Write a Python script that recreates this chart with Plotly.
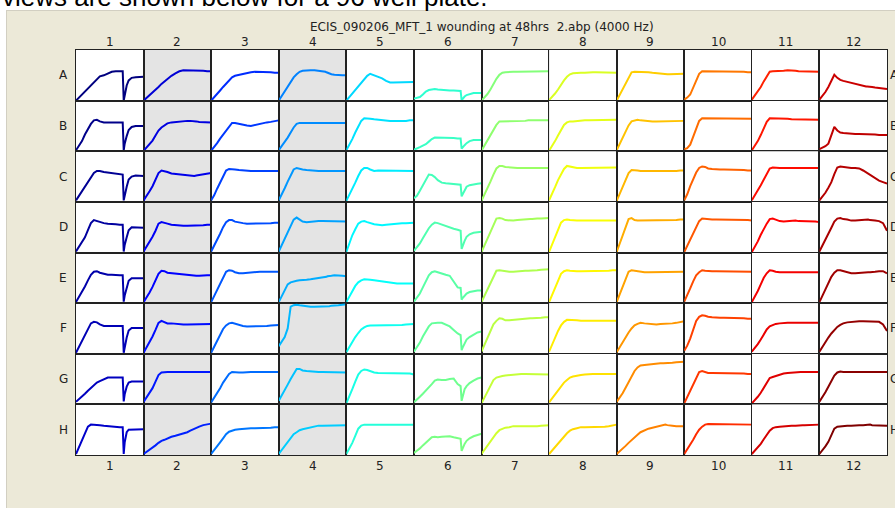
import plotly.graph_objects as go
from plotly.subplots import make_subplots

# hours since seeding; the plate was wounded at 48 h
hours = [0, 3, 6, 9, 12, 15, 18, 21, 24, 28, 32, 36, 40, 44, 47, 48, 49, 51, 53, 56, 60, 64, 68]

row_labels = ["A", "B", "C", "D", "E", "F", "G", "H"]
col_labels = [str(c) for c in range(1, 13)]

# resistance traces, % of the cell's y range, one list per well, columns 1..12
row_a = [
    [0, 6, 12, 18, 24, 30, 38, 44, 48, 50, 54, 57, 58, 58, 58, 0, 10, 30, 40, 45, 46, 47, 47],
    [0, 5, 11, 16, 21, 27, 33, 38, 43, 49, 54, 58, 60, 60, 60, 60, 60, 60, 59, 59, 59, 58, 58],
    [0, 6, 13, 20, 27, 34, 41, 46, 49, 51, 53, 54, 56, 57, 57, 57, 57, 57, 56, 56, 56, 55, 55],
    [0, 9, 18, 28, 37, 46, 52, 57, 59, 60, 60, 60, 59, 59, 57, 56, 55, 53, 52, 51, 50, 50, 50],
    [0, 7, 14, 22, 29, 36, 43, 49, 53, 50, 46, 44, 39, 36, 36, 36, 36, 36, 36, 36, 36, 37, 37],
    [4, 5, 7, 12, 18, 21, 22, 23, 22, 21, 21, 20, 20, 19, 19, 1, 4, 8, 11, 13, 15, 15, 15],
    [0, 6, 13, 22, 33, 43, 51, 55, 56, 57, 57, 57, 57, 57, 57, 57, 58, 58, 58, 58, 58, 58, 58],
    [1, 7, 14, 22, 32, 40, 47, 52, 54, 55, 55, 55, 56, 56, 56, 56, 56, 56, 56, 55, 55, 55, 55],
    [0, 11, 23, 35, 46, 56, 57, 57, 57, 56, 56, 55, 54, 53, 52, 52, 52, 52, 52, 52, 52, 53, 53],
    [2, 6, 12, 27, 42, 53, 58, 58, 58, 58, 58, 58, 58, 58, 58, 58, 58, 57, 57, 57, 57, 56, 56],
    [2, 10, 19, 27, 38, 49, 57, 58, 58, 59, 59, 60, 60, 59, 58, 58, 58, 58, 57, 57, 57, 57, 57],
    [2, 9, 17, 27, 40, 51, 45, 41, 39, 37, 34, 33, 31, 29, 28, 28, 28, 27, 27, 26, 25, 24, 23],
]
row_b = [
    [2, 10, 20, 33, 45, 54, 61, 62, 59, 57, 57, 57, 57, 57, 57, 2, 15, 30, 42, 48, 50, 50, 50],
    [1, 7, 14, 21, 31, 41, 47, 51, 55, 57, 58, 59, 60, 60, 60, 60, 60, 60, 59, 58, 58, 57, 57],
    [1, 8, 16, 25, 33, 41, 50, 56, 56, 54, 52, 51, 50, 52, 53, 54, 54, 55, 56, 57, 58, 60, 61],
    [2, 10, 18, 27, 37, 47, 54, 56, 56, 56, 56, 56, 56, 56, 56, 56, 56, 56, 56, 56, 56, 56, 56],
    [2, 12, 24, 37, 49, 60, 65, 65, 64, 63, 62, 61, 61, 60, 60, 60, 59, 59, 59, 60, 60, 61, 61],
    [3, 5, 8, 11, 14, 19, 24, 27, 27, 27, 27, 26, 26, 25, 25, 5, 8, 12, 16, 20, 22, 22, 22],
    [1, 11, 21, 31, 41, 52, 59, 59, 59, 59, 59, 60, 60, 60, 61, 61, 61, 61, 61, 61, 61, 61, 61],
    [1, 10, 20, 31, 41, 52, 57, 59, 59, 60, 60, 61, 61, 61, 61, 61, 61, 61, 61, 62, 62, 62, 62],
    [2, 14, 27, 40, 51, 59, 61, 62, 61, 60, 59, 59, 59, 59, 59, 59, 59, 59, 59, 59, 60, 60, 60],
    [4, 6, 13, 29, 46, 60, 65, 65, 65, 65, 65, 65, 65, 65, 65, 65, 65, 65, 65, 64, 64, 64, 64],
    [2, 10, 20, 32, 45, 58, 65, 65, 65, 65, 64, 64, 63, 63, 63, 63, 63, 63, 62, 62, 62, 62, 62],
    [4, 7, 10, 15, 30, 48, 41, 37, 36, 35, 35, 34, 34, 34, 33, 33, 33, 33, 33, 33, 32, 32, 32],
]
row_c = [
    [3, 12, 22, 31, 41, 50, 57, 61, 61, 59, 58, 57, 56, 55, 54, 3, 15, 30, 44, 50, 52, 51, 51],
    [3, 11, 21, 31, 44, 57, 62, 61, 59, 56, 55, 54, 53, 52, 51, 51, 51, 51, 52, 53, 54, 56, 57],
    [3, 13, 26, 38, 52, 62, 65, 65, 64, 63, 62, 61, 61, 61, 61, 61, 61, 61, 61, 61, 61, 61, 61],
    [3, 14, 27, 40, 53, 64, 67, 65, 64, 63, 62, 61, 61, 61, 61, 61, 61, 61, 61, 61, 61, 61, 61],
    [2, 13, 25, 38, 51, 62, 67, 67, 64, 61, 62, 62, 62, 62, 62, 62, 62, 62, 61, 61, 61, 61, 61],
    [7, 12, 22, 32, 43, 54, 53, 49, 43, 38, 37, 36, 35, 34, 34, 11, 15, 23, 30, 33, 35, 36, 37],
    [2, 14, 27, 40, 54, 66, 71, 71, 69, 68, 67, 67, 67, 67, 67, 67, 67, 67, 67, 67, 67, 67, 67],
    [3, 15, 29, 43, 55, 65, 71, 70, 68, 67, 67, 67, 67, 67, 67, 67, 67, 67, 67, 68, 68, 68, 68],
    [2, 16, 31, 45, 57, 63, 63, 62, 61, 61, 60, 60, 60, 60, 60, 60, 60, 60, 61, 61, 61, 62, 62],
    [3, 15, 31, 45, 58, 67, 70, 69, 66, 65, 64, 64, 64, 64, 64, 64, 64, 64, 64, 63, 63, 62, 62],
    [3, 12, 23, 33, 44, 57, 66, 68, 67, 67, 67, 67, 67, 67, 67, 67, 67, 67, 67, 67, 67, 67, 67],
    [3, 10, 18, 28, 39, 55, 68, 70, 69, 68, 67, 67, 66, 62, 58, 57, 56, 53, 50, 46, 42, 39, 36],
]
row_d = [
    [2, 11, 21, 30, 44, 58, 64, 62, 60, 58, 57, 57, 56, 55, 55, 2, 15, 30, 44, 50, 50, 50, 49],
    [2, 11, 21, 31, 43, 57, 60, 59, 57, 55, 54, 53, 53, 53, 53, 53, 53, 53, 54, 54, 54, 55, 55],
    [2, 13, 25, 37, 50, 60, 64, 64, 61, 59, 58, 57, 57, 57, 57, 57, 57, 57, 58, 58, 58, 59, 59],
    [2, 15, 29, 41, 55, 65, 69, 65, 61, 60, 61, 61, 62, 62, 62, 62, 62, 62, 62, 62, 61, 61, 61],
    [1, 18, 34, 46, 57, 61, 62, 60, 58, 56, 55, 54, 55, 56, 57, 57, 57, 57, 58, 58, 58, 59, 59],
    [3, 10, 18, 28, 39, 48, 55, 59, 58, 55, 52, 49, 47, 45, 43, 7, 14, 23, 31, 36, 39, 40, 41],
    [1, 14, 27, 40, 54, 67, 68, 67, 64, 63, 63, 64, 65, 65, 66, 66, 66, 66, 67, 67, 67, 68, 68],
    [1, 16, 32, 47, 59, 64, 65, 64, 63, 63, 63, 63, 63, 63, 63, 63, 63, 63, 63, 63, 63, 63, 63],
    [1, 18, 36, 53, 66, 68, 64, 63, 63, 63, 63, 63, 63, 63, 63, 63, 63, 63, 64, 64, 64, 65, 65],
    [1, 13, 26, 39, 52, 62, 67, 66, 65, 65, 65, 65, 65, 65, 65, 65, 65, 65, 64, 64, 64, 64, 63],
    [1, 11, 22, 35, 47, 57, 66, 67, 65, 62, 61, 62, 63, 63, 62, 62, 62, 62, 62, 62, 62, 61, 60],
    [2, 13, 24, 36, 49, 61, 67, 68, 66, 65, 63, 63, 64, 65, 65, 65, 65, 64, 63, 63, 62, 58, 43],
]
row_e = [
    [2, 12, 22, 33, 45, 56, 62, 63, 60, 58, 56, 56, 55, 55, 55, 3, 15, 32, 44, 49, 49, 49, 49],
    [2, 11, 21, 32, 45, 58, 64, 63, 60, 59, 59, 58, 57, 56, 55, 55, 55, 54, 54, 54, 55, 55, 55],
    [2, 14, 27, 39, 52, 62, 65, 64, 61, 59, 59, 60, 61, 62, 62, 62, 62, 62, 62, 62, 62, 62, 62],
    [2, 14, 27, 37, 41, 43, 44, 45, 45, 46, 47, 48, 50, 51, 52, 52, 53, 53, 54, 55, 55, 54, 53],
    [2, 13, 25, 34, 41, 45, 47, 47, 46, 45, 44, 42, 41, 40, 39, 39, 39, 39, 39, 39, 39, 39, 39],
    [3, 10, 19, 31, 44, 55, 61, 63, 61, 58, 56, 54, 42, 31, 30, 7, 10, 15, 19, 22, 24, 25, 25],
    [2, 15, 28, 41, 53, 64, 65, 64, 63, 62, 62, 63, 63, 64, 64, 64, 64, 64, 65, 65, 66, 66, 67],
    [2, 16, 30, 45, 58, 63, 65, 64, 63, 63, 63, 63, 63, 63, 63, 63, 63, 63, 64, 64, 64, 65, 65],
    [2, 17, 33, 49, 62, 65, 64, 62, 61, 61, 61, 61, 61, 61, 61, 61, 61, 61, 61, 61, 62, 62, 62],
    [3, 15, 29, 43, 55, 61, 65, 64, 63, 63, 63, 63, 62, 62, 62, 62, 62, 62, 62, 62, 62, 62, 62],
    [2, 12, 24, 37, 50, 59, 65, 64, 62, 61, 61, 61, 61, 61, 61, 61, 61, 61, 61, 61, 61, 61, 61],
    [2, 15, 29, 41, 52, 60, 65, 65, 63, 61, 59, 59, 60, 60, 61, 61, 61, 61, 62, 62, 63, 63, 59],
]
row_f = [
    [2, 13, 25, 36, 49, 60, 63, 62, 58, 55, 55, 55, 55, 55, 55, 2, 15, 32, 46, 51, 51, 51, 51],
    [2, 12, 23, 34, 47, 61, 65, 63, 60, 60, 59, 58, 58, 58, 58, 58, 58, 58, 58, 59, 59, 59, 59],
    [2, 14, 26, 38, 49, 56, 60, 61, 59, 57, 55, 54, 54, 54, 54, 54, 54, 54, 54, 55, 56, 57, 57],
    [15, 25, 33, 50, 93, 96, 97, 96, 95, 94, 93, 93, 93, 93, 93, 93, 94, 94, 95, 95, 96, 97, 98],
    [3, 14, 25, 33, 41, 48, 52, 55, 56, 56, 56, 56, 56, 56, 56, 56, 56, 57, 57, 57, 58, 58, 59],
    [4, 12, 22, 34, 45, 54, 60, 61, 61, 61, 58, 54, 47, 40, 37, 7, 12, 20, 28, 33, 38, 42, 44],
    [4, 17, 33, 46, 58, 65, 70, 69, 66, 66, 67, 68, 69, 69, 70, 70, 70, 70, 70, 71, 71, 72, 72],
    [4, 18, 32, 45, 56, 63, 67, 67, 66, 66, 65, 65, 65, 65, 65, 65, 65, 65, 65, 65, 65, 65, 65],
    [3, 13, 23, 33, 42, 50, 56, 59, 61, 60, 59, 58, 58, 59, 59, 59, 60, 60, 60, 60, 61, 62, 64],
    [6, 16, 30, 47, 65, 73, 76, 75, 73, 72, 71, 71, 71, 71, 71, 71, 71, 71, 70, 70, 70, 69, 69],
    [4, 11, 19, 28, 38, 48, 54, 57, 59, 60, 61, 61, 61, 61, 61, 61, 61, 62, 62, 62, 62, 62, 61],
    [4, 14, 23, 32, 40, 47, 53, 57, 60, 62, 63, 64, 64, 64, 64, 64, 64, 64, 64, 64, 63, 58, 45],
]
row_g = [
    [5, 10, 16, 21, 27, 33, 38, 43, 46, 50, 53, 53, 53, 53, 53, 6, 20, 35, 43, 45, 45, 45, 45],
    [5, 14, 23, 32, 45, 58, 63, 64, 64, 64, 64, 64, 64, 64, 64, 64, 64, 64, 63, 63, 63, 64, 64],
    [4, 13, 22, 32, 43, 52, 60, 64, 63, 63, 63, 64, 64, 64, 64, 64, 64, 64, 64, 64, 64, 64, 64],
    [7, 17, 27, 39, 50, 61, 70, 70, 67, 66, 65, 64, 64, 64, 64, 64, 64, 64, 63, 63, 63, 63, 63],
    [2, 15, 30, 45, 59, 66, 69, 68, 66, 63, 62, 62, 62, 62, 62, 62, 62, 62, 62, 62, 62, 61, 59],
    [4, 9, 15, 21, 27, 33, 40, 47, 49, 48, 48, 50, 51, 40, 36, 7, 15, 30, 36, 42, 47, 51, 53],
    [2, 14, 27, 38, 48, 53, 55, 56, 57, 58, 59, 59, 60, 60, 60, 60, 60, 60, 60, 60, 60, 59, 59],
    [4, 12, 20, 28, 37, 43, 48, 53, 55, 57, 58, 59, 60, 60, 60, 60, 60, 60, 60, 60, 60, 60, 60],
    [5, 13, 22, 33, 44, 55, 66, 73, 77, 78, 79, 79, 80, 81, 81, 81, 81, 82, 82, 82, 83, 83, 84],
    [2, 15, 28, 40, 53, 64, 66, 64, 62, 62, 62, 61, 61, 61, 61, 61, 61, 61, 61, 61, 61, 60, 60],
    [2, 8, 15, 23, 33, 44, 52, 54, 56, 58, 61, 62, 63, 64, 64, 64, 64, 64, 64, 65, 65, 65, 64],
    [5, 14, 24, 35, 46, 57, 63, 65, 64, 64, 64, 64, 64, 65, 65, 65, 65, 65, 64, 64, 64, 64, 64],
]
row_h = [
    [2, 16, 30, 44, 56, 60, 60, 59, 59, 58, 57, 56, 56, 55, 55, 2, 25, 45, 50, 50, 51, 51, 51],
    [2, 6, 10, 15, 19, 24, 28, 30, 33, 36, 38, 40, 42, 45, 48, 49, 50, 52, 54, 56, 59, 61, 62],
    [2, 9, 17, 25, 33, 41, 46, 48, 50, 51, 52, 52, 53, 53, 53, 53, 53, 54, 54, 54, 54, 55, 55],
    [2, 10, 18, 26, 34, 41, 45, 49, 51, 53, 55, 56, 58, 58, 58, 58, 58, 58, 59, 59, 59, 59, 59],
    [2, 12, 24, 38, 52, 58, 60, 60, 60, 60, 60, 61, 61, 61, 61, 61, 61, 61, 61, 61, 61, 61, 60],
    [4, 8, 13, 19, 25, 30, 35, 36, 35, 36, 37, 37, 35, 33, 32, 8, 14, 22, 28, 33, 37, 40, 42],
    [2, 10, 19, 28, 36, 43, 49, 52, 54, 55, 57, 57, 57, 56, 56, 56, 56, 56, 57, 57, 58, 58, 59],
    [2, 9, 17, 24, 31, 37, 43, 48, 51, 53, 55, 55, 55, 55, 55, 55, 55, 56, 56, 56, 57, 58, 60],
    [2, 7, 12, 18, 24, 30, 35, 40, 45, 49, 52, 54, 56, 58, 59, 60, 60, 59, 58, 58, 57, 57, 57],
    [2, 11, 20, 30, 41, 50, 56, 60, 61, 61, 61, 61, 61, 61, 61, 61, 61, 61, 60, 60, 60, 60, 60],
    [2, 8, 15, 22, 31, 40, 48, 53, 55, 56, 57, 58, 58, 58, 59, 59, 59, 59, 59, 59, 60, 60, 60],
    [2, 9, 17, 26, 38, 52, 56, 57, 57, 58, 58, 59, 59, 59, 60, 60, 60, 60, 59, 59, 59, 58, 58],
]
plate = [row_a, row_b, row_c, row_d, row_e, row_f, row_g, row_h]

W, H = 895, 508
L, R, T, B = 76, 8, 50, 53
FONT = "DejaVu Sans"


def jet(v):
    # matlab-style jet colormap, v in [0, 1]
    def f(x):
        return max(0.0, min(1.0, 1.5 - abs(4 * v - x)))
    r, g, b = f(3), f(2), f(1)
    return "rgb(%d,%d,%d)" % (r * 255, g * 255, b * 255)


def px_x(px):
    return (px - L) / (W - L - R)


def px_y(py):
    return (H - B - py) / (H - T - B)


fig = make_subplots(rows=8, cols=12, horizontal_spacing=0, vertical_spacing=0)

for r, row in enumerate(plate):
    for c, values in enumerate(row):
        well = c * 8 + r
        fig.add_trace(
            go.Scatter(
                x=hours,
                y=values,
                mode="lines",
                line=dict(color=jet(well / 95), width=2),
                hoverinfo="skip",
                showlegend=False,
            ),
            row=r + 1,
            col=c + 1,
        )

fig.update_xaxes(range=[0, 68], showticklabels=False, showgrid=False, zeroline=False,
                 showline=True, mirror=True, linecolor="#222222", linewidth=1, ticks="")
fig.update_yaxes(range=[0, 100], showticklabels=False, showgrid=False, zeroline=False,
                 showline=True, mirror=True, linecolor="#222222", linewidth=1, ticks="")

shapes = []
# grey reference columns 2 and 4
for c in (1, 3):
    shapes.append(dict(type="rect", xref="paper", yref="paper", x0=c / 12, x1=(c + 1) / 12,
                       y0=0, y1=1, fillcolor="#e4e4e4", line=dict(width=0), layer="below"))
# white page around the beige dialog panel
shapes.append(dict(type="rect", xref="paper", yref="paper", x0=px_x(-5), x1=px_x(W + 5),
                   y0=px_y(10), y1=px_y(-5), fillcolor="white", line=dict(width=0), layer="below"))
shapes.append(dict(type="rect", xref="paper", yref="paper", x0=px_x(-5), x1=px_x(6),
                   y0=px_y(H + 5), y1=px_y(-5), fillcolor="white", line=dict(width=0), layer="below"))
shapes.append(dict(type="line", xref="paper", yref="paper", x0=px_x(6), x1=px_x(W + 5),
                   y0=px_y(10.5), y1=px_y(10.5), line=dict(color="#d2cfc2", width=1), layer="below"))
shapes.append(dict(type="line", xref="paper", yref="paper", x0=px_x(6.5), x1=px_x(6.5),
                   y0=px_y(10), y1=px_y(H + 5), line=dict(color="#d2cfc2", width=1), layer="below"))

lab = dict(family=FONT, size=12, color="#222222")
ann = []
ann.append(dict(text="views are shown below for a 96 well plate.", x=px_x(0), y=px_y(14),
                xref="paper", yref="paper", xanchor="left", yanchor="bottom", showarrow=False,
                font=dict(family="Liberation Sans", size=26, color="black")))
ann.append(dict(text="ECIS_090206_MFT_1 wounding at 48hrs \u00a02.abp (4000 Hz)", x=0.5,
                y=px_y(27), xref="paper", yref="paper", xanchor="center", yanchor="middle",
                showarrow=False, font=lab))
for c, name in enumerate(col_labels):
    for py in (42, 466):
        ann.append(dict(text=name, x=(c + 0.5) / 12, y=px_y(py), xref="paper", yref="paper",
                        xanchor="center", yanchor="middle", showarrow=False, font=lab))
for r, name in enumerate(row_labels):
    yc = 1 - (r + 0.5) / 8
    ann.append(dict(text=name, x=px_x(63), y=yc, xref="paper", yref="paper",
                    xanchor="center", yanchor="middle", showarrow=False, font=lab))
    ann.append(dict(text=name, x=px_x(888), y=yc, xref="paper", yref="paper",
                    xanchor="left", yanchor="middle", showarrow=False, font=lab))

fig.update_layout(
    width=W,
    height=H,
    margin=dict(l=L, r=R, t=T, b=B),
    paper_bgcolor="#ece9d8",
    plot_bgcolor="white",
    shapes=shapes,
    annotations=ann,
)

# the page's default body margin would push the figure 8px off the window's corner
fig.write_html("out.html", config={"displayModeBar": False},
               post_script="document.body.style.margin='0';")
